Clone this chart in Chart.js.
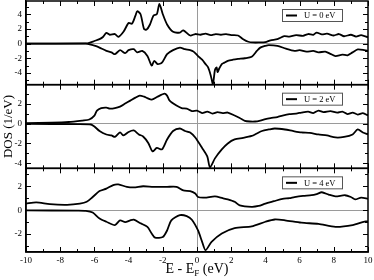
<!DOCTYPE html>
<html>
<head>
<meta charset="utf-8">
<script src="https://cdn.jsdelivr.net/npm/chart.js@4/dist/chart.umd.min.js"></script>
<style>
html,body{margin:0;padding:0;background:#fff;}
#wrap{width:374px;height:280px;}
</style>
</head>
<body>
<div id="wrap"><canvas id="c" width="374" height="280"></canvas></div>
<script>
// ---- data ----
const panelLabels = ['U = 0 eV', 'U = 2 eV', 'U = 4 eV'];
const xTicks = [-10, -8, -6, -4, -2, 0, 2, 4, 6, 8, 10];
const yTicks1 = [-4, -2, 0, 2, 4];
const yTicks2 = [-4, -2, 0, 2];
const yTicks3 = [-2, 0, 2];

// U = 0 eV
const eUp0 = [-10, -6.5, -6.3, -6.0, -5.7, -5.5, -5.3, -5.1, -4.8, -4.6, -4.3, -4.0, -3.8, -3.6, -3.5, -3.3, -3.1, -2.95, -2.75, -2.55, -2.35, -2.2, -2.0, -1.75, -1.4, -1.0, -0.8, -0.4, -0.1, 0.2, 0.5, 0.8, 1.1, 1.4, 1.7, 2.0, 2.4, 2.7, 3.0, 3.3, 3.6, 4.0, 4.3, 4.7, 5.1, 5.4, 5.8, 6.2, 6.5, 6.8, 7.0, 7.3, 7.6, 8.0, 8.3, 8.6, 9.0, 9.3, 9.6, 10];
const up0 = [0, 0.02, 0.1, 0.35, 0.6, 0.9, 1.45, 1.2, 1.3, 0.9, 1.6, 2.8, 2.7, 3.8, 4.4, 4.0, 2.0, 1.9, 2.6, 3.8, 4.0, 5.4, 4.0, 2.6, 1.6, 1.5, 1.8, 1.1, 1.3, 1.2, 1.35, 1.15, 1.3, 1.2, 1.3, 1.15, 1.1, 0.6, 0.25, 0.15, 0.15, 0.2, 0.45, 0.6, 1.0, 0.95, 1.15, 1.05, 1.3, 1.2, 1.5, 1.25, 1.35, 1.1, 1.3, 1.0, 1.2, 0.95, 1.15, 0.85];
const eDn0 = [-10, -6.5, -6.2, -5.9, -5.7, -5.3, -5.0, -4.8, -4.5, -4.2, -4.0, -3.7, -3.5, -3.2, -2.9, -2.65, -2.5, -2.3, -2.05, -1.75, -1.4, -1.0, -0.7, -0.4, -0.2, 0.06, 0.3, 0.5, 0.65, 0.8, 0.93, 1.05, 1.15, 1.2, 1.3, 1.45, 1.6, 1.8, 2.1, 2.4, 2.8, 3.2, 3.5, 3.7, 4.0, 4.2, 4.7, 5.2, 5.7, 6.0, 6.4, 6.8, 7.1, 7.5, 7.8, 8.1, 8.5, 8.8, 9.1, 9.4, 9.8, 10];
const dn0 = [0, -0.02, -0.15, -0.35, -0.55, -1.0, -1.2, -1.45, -0.9, -1.3, -0.9, -0.77, -1.2, -1.0, -1.7, -3.0, -2.35, -2.8, -2.6, -1.45, -0.9, -0.55, -0.77, -0.9, -1.1, -1.7, -2.2, -2.8, -3.25, -4.3, -5.5, -3.6, -3.25, -3.9, -3.4, -2.8, -2.6, -2.35, -2.2, -2.1, -2.0, -1.8, -1.0, -0.55, -0.3, -0.2, -0.3, -0.7, -1.0, -0.9, -1.1, -1.0, -1.2, -1.1, -1.4, -1.7, -1.5, -1.6, -1.2, -0.8, -0.9, -1.0];

// U = 2 eV
const eUp2 = [-10, -8.5, -7.5, -6.7, -6.3, -6.0, -5.85, -5.6, -5.3, -5.1, -4.8, -4.5, -4.2, -3.9, -3.6, -3.35, -3.1, -2.9, -2.65, -2.3, -1.9, -1.75, -1.6, -1.2, -0.9, -0.6, -0.3, 0, 0.3, 0.6, 0.9, 1.2, 1.5, 1.8, 2.2, 2.5, 2.8, 3.1, 3.4, 3.7, 4.0, 4.3, 4.7, 5.0, 5.4, 5.8, 6.1, 6.5, 6.8, 7.1, 7.4, 7.8, 8.2, 8.5, 8.8, 9.1, 9.4, 9.7, 10];
const up2 = [0.04, 0.08, 0.15, 0.3, 0.4, 0.8, 1.3, 1.55, 1.6, 1.5, 1.55, 1.7, 2.0, 2.3, 2.6, 2.8, 2.7, 2.55, 2.4, 2.7, 3.0, 2.8, 2.3, 1.8, 1.55, 1.5, 1.25, 1.3, 1.05, 1.2, 1.0, 1.15, 1.05, 1.1, 0.8, 0.55, 0.27, 0.2, 0.2, 0.3, 0.45, 0.55, 0.65, 0.8, 0.95, 1.0, 1.1, 1.2, 1.05, 1.3, 1.15, 1.25, 1.1, 1.2, 0.95, 1.1, 0.9, 1.05, 0.8];
const eDn2 = [-10, -7, -6.2, -6.0, -5.7, -5.3, -5.0, -4.8, -4.5, -4.3, -4.0, -3.7, -3.4, -3.15, -2.85, -2.6, -2.35, -2.05, -1.75, -1.4, -1.0, -0.7, -0.4, -0.1, 0.3, 0.6, 0.76, 1.05, 1.45, 1.8, 2.2, 2.7, 3.2, 3.5, 3.8, 4.2, 4.55, 5.15, 5.6, 6.1, 6.6, 7.1, 7.6, 8.1, 8.6, 9.1, 9.4, 9.7, 10];
const dn2 = [-0.04, -0.06, -0.1, -0.3, -0.75, -1.1, -1.2, -1.35, -0.9, -1.2, -0.85, -0.7, -1.1, -1.3, -1.95, -2.8, -2.45, -2.6, -1.6, -0.75, -0.5, -0.75, -0.9, -1.4, -2.45, -3.3, -4.4, -3.5, -2.6, -2.0, -1.6, -1.45, -1.25, -1.0, -0.75, -0.6, -0.5, -0.6, -0.75, -0.9, -0.95, -1.1, -1.2, -1.4, -1.35, -1.1, -0.6, -0.9, -1.1];

// U = 4 eV
const eUp4 = [-10, -9.4, -8.6, -7.6, -6.85, -6.45, -6.1, -5.7, -5.3, -4.9, -4.6, -4.1, -3.7, -3.15, -2.55, -1.75, -1.2, -0.8, -0.4, -0.1, 0.06, 0.45, 1.05, 1.5, 1.8, 2.2, 2.5, 3.2, 3.6, 4.0, 4.5, 5.0, 5.4, 5.7, 6.2, 6.7, 7.0, 7.3, 7.7, 8.1, 8.65, 9.0, 9.25, 9.6, 10];
const up4 = [0.55, 0.65, 0.5, 0.45, 0.55, 0.7, 1.1, 1.6, 1.8, 2.1, 2.15, 1.95, 1.9, 2.0, 1.95, 1.95, 1.95, 1.65, 1.6, 1.4, 1.1, 1.05, 1.15, 1.0, 0.9, 0.7, 0.4, 0.28, 0.35, 0.55, 0.75, 0.95, 1.0, 1.1, 1.2, 1.25, 1.35, 1.5, 1.3, 1.15, 1.25, 1.1, 0.9, 1.05, 0.95];
const eDn4 = [-10, -7, -6.5, -6.1, -5.7, -5.3, -4.8, -4.5, -4.2, -3.9, -3.7, -3.3, -2.9, -2.65, -2.45, -2.0, -1.75, -1.5, -1.0, -0.6, -0.3, 0.06, 0.3, 0.5, 0.85, 1.45, 2.2, 3.2, 4.0, 4.55, 5.15, 6.1, 7.1, 8.1, 9.1, 9.8, 10];
const dn4 = [-0.02, -0.04, -0.06, -0.2, -0.7, -0.97, -1.25, -0.85, -1.0, -0.85, -0.8, -1.1, -1.4, -1.95, -2.3, -2.25, -1.7, -0.85, -0.42, -0.5, -0.8, -1.7, -2.65, -3.35, -2.65, -1.95, -1.5, -1.35, -0.97, -0.78, -0.85, -1.05, -1.15, -1.4, -1.25, -0.95, -0.95];

// ---- build ----
const pts = (xs, ys) => xs.map((x, i) => ({x: x, y: ys[i]}));
const SERIF = "'Liberation Serif', 'DejaVu Serif', serif";
function ds(label, xs, ys, axis) {
  return {label: label, data: pts(xs, ys), yAxisID: axis, borderColor: '#000', borderWidth: 1.8,
          pointRadius: 0, tension: 0.25, fill: false};
}
const datasets = [
  ds(panelLabels[0], eUp0, up0, 'y1'), ds(panelLabels[0], eDn0, dn0, 'y1'),
  ds(panelLabels[1], eUp2, up2, 'y2'), ds(panelLabels[1], eDn2, dn2, 'y2'),
  ds(panelLabels[2], eUp4, up4, 'y3'), ds(panelLabels[2], eDn4, dn4, 'y3')
];

function yAxis(min, max, tickList, showTitle) {
  return {
    type: 'linear', position: 'left', stack: 'dos', stackWeight: 1, min: min, max: max,
    afterBuildTicks: s => { s.ticks = tickList.map(v => ({value: v})); },
    afterFit: s => { s.width = 26; s.paddingTop = 0; s.paddingBottom = 0; },
    ticks: {font: {family: SERIF, size: 9}, color: '#000', padding: 4, autoSkip: false},
    grid: {drawTicks: false, lineWidth: 1,
           color: c => (c.tick && c.tick.value === 0) ? '#9a9a9a' : 'rgba(0,0,0,0)'},
    border: {display: true, color: '#000', width: 1.5},
    title: {display: showTitle, text: 'DOS (1/eV)', color: '#000',
            font: {family: SERIF, size: 13}, padding: {top: 1, bottom: 0}}
  };
}

const panelAxes = ['y1', 'y2', 'y3'];

const decor = {
  id: 'decor',
  afterDraw(chart) {
    const ctx = chart.ctx, ca = chart.chartArea, xs = chart.scales.x;
    const seg = (x1, y1, x2, y2) => { ctx.beginPath(); ctx.moveTo(x1, y1); ctx.lineTo(x2, y2); ctx.stroke(); };
    ctx.save();
    panelAxes.forEach((id, i) => {
      const s = chart.scales[id];
      const top = s.top, bot = s.bottom;
      ctx.strokeStyle = '#000';
      ctx.lineWidth = 1;
      for (let v = Math.ceil(s.min); v <= Math.floor(s.max); v++) {
        const y = Math.round(s.getPixelForValue(v)) + 0.5;
        const len = (v % 2 === 0) ? 5 : 3;
        seg(ca.left, y, ca.left + len, y);
        seg(ca.right, y, ca.right - len, y);
      }
      for (let v = xs.min; v <= xs.max; v++) {
        const x = Math.round(xs.getPixelForValue(v)) + 0.5;
        const len = (v % 2 === 0) ? 5 : 3;
        seg(x, top, x, top + len);
        seg(x, bot, x, bot - len);
      }
      ctx.lineWidth = 1.5;
      ctx.strokeRect(ca.left, top, ca.right - ca.left, bot - top);
      // legend box
      const bw = 60, bh = 12;
      const bx = ca.right - 26 - bw, by = top + 8;
      ctx.fillStyle = '#fff';
      ctx.fillRect(bx, by, bw, bh);
      ctx.lineWidth = 1;
      ctx.strokeStyle = '#555';
      ctx.strokeRect(bx + 0.5, by + 0.5, bw, bh);
      ctx.strokeStyle = '#000';
      ctx.lineWidth = 2;
      seg(bx + 4, by + bh / 2 + 0.5, bx + 15, by + bh / 2 + 0.5);
      ctx.fillStyle = '#000';
      ctx.font = '8.5px ' + SERIF;
      ctx.textBaseline = 'middle';
      ctx.textAlign = 'left';
      ctx.fillText(panelLabels[i], bx + 22, by + bh / 2 + 1);
    });
    // x axis title with subscript
    const cx = (ca.left + ca.right) / 2;
    const base = ca.bottom + 21;
    ctx.fillStyle = '#000';
    ctx.textBaseline = 'alphabetic';
    const big = '14px ' + SERIF, small = '9px ' + SERIF;
    const p1 = 'E - E', p2 = 'F', p3 = ' (eV)';
    ctx.font = big; const w1 = ctx.measureText(p1).width, w3 = ctx.measureText(p3).width;
    ctx.font = small; const w2 = ctx.measureText(p2).width;
    let x0 = cx - (w1 + w2 + w3) / 2;
    ctx.font = big; ctx.textAlign = 'left'; ctx.fillText(p1, x0, base);
    ctx.font = small; ctx.fillText(p2, x0 + w1, base + 3);
    ctx.font = big; ctx.fillText(p3, x0 + w1 + w2, base);
    ctx.restore();
  }
};

new Chart(document.getElementById('c'), {
  type: 'line',
  data: {datasets: datasets},
  options: {
    responsive: false, animation: false,
    layout: {padding: {left: 0, right: 6, top: 1, bottom: 0}},
    scales: {
      x: {
        type: 'linear', min: -10, max: 10,
        afterBuildTicks: s => { s.ticks = xTicks.map(v => ({value: v})); },
        afterFit: s => { s.height = 28; s.paddingLeft = 0; s.paddingRight = 0; },
        ticks: {font: {family: SERIF, size: 9}, color: '#000', padding: 3, autoSkip: false, maxRotation: 0},
        grid: {drawTicks: false, lineWidth: 1,
               color: c => (c.tick && c.tick.value === 0) ? '#9a9a9a' : 'rgba(0,0,0,0)'},
        border: {display: true, color: '#000', width: 1.5}
      },
      // stacked panels: the first listed is placed at the bottom
      y3: yAxis(-3.5, 3.5, yTicks3, false),
      y2: yAxis(-4.5, 3.9, yTicks2, true),
      y1: yAxis(-5.6, 5.8, yTicks1, false)
    },
    plugins: {legend: {display: false}, tooltip: {enabled: false}}
  },
  plugins: [decor]
});
</script>
</body>
</html>
